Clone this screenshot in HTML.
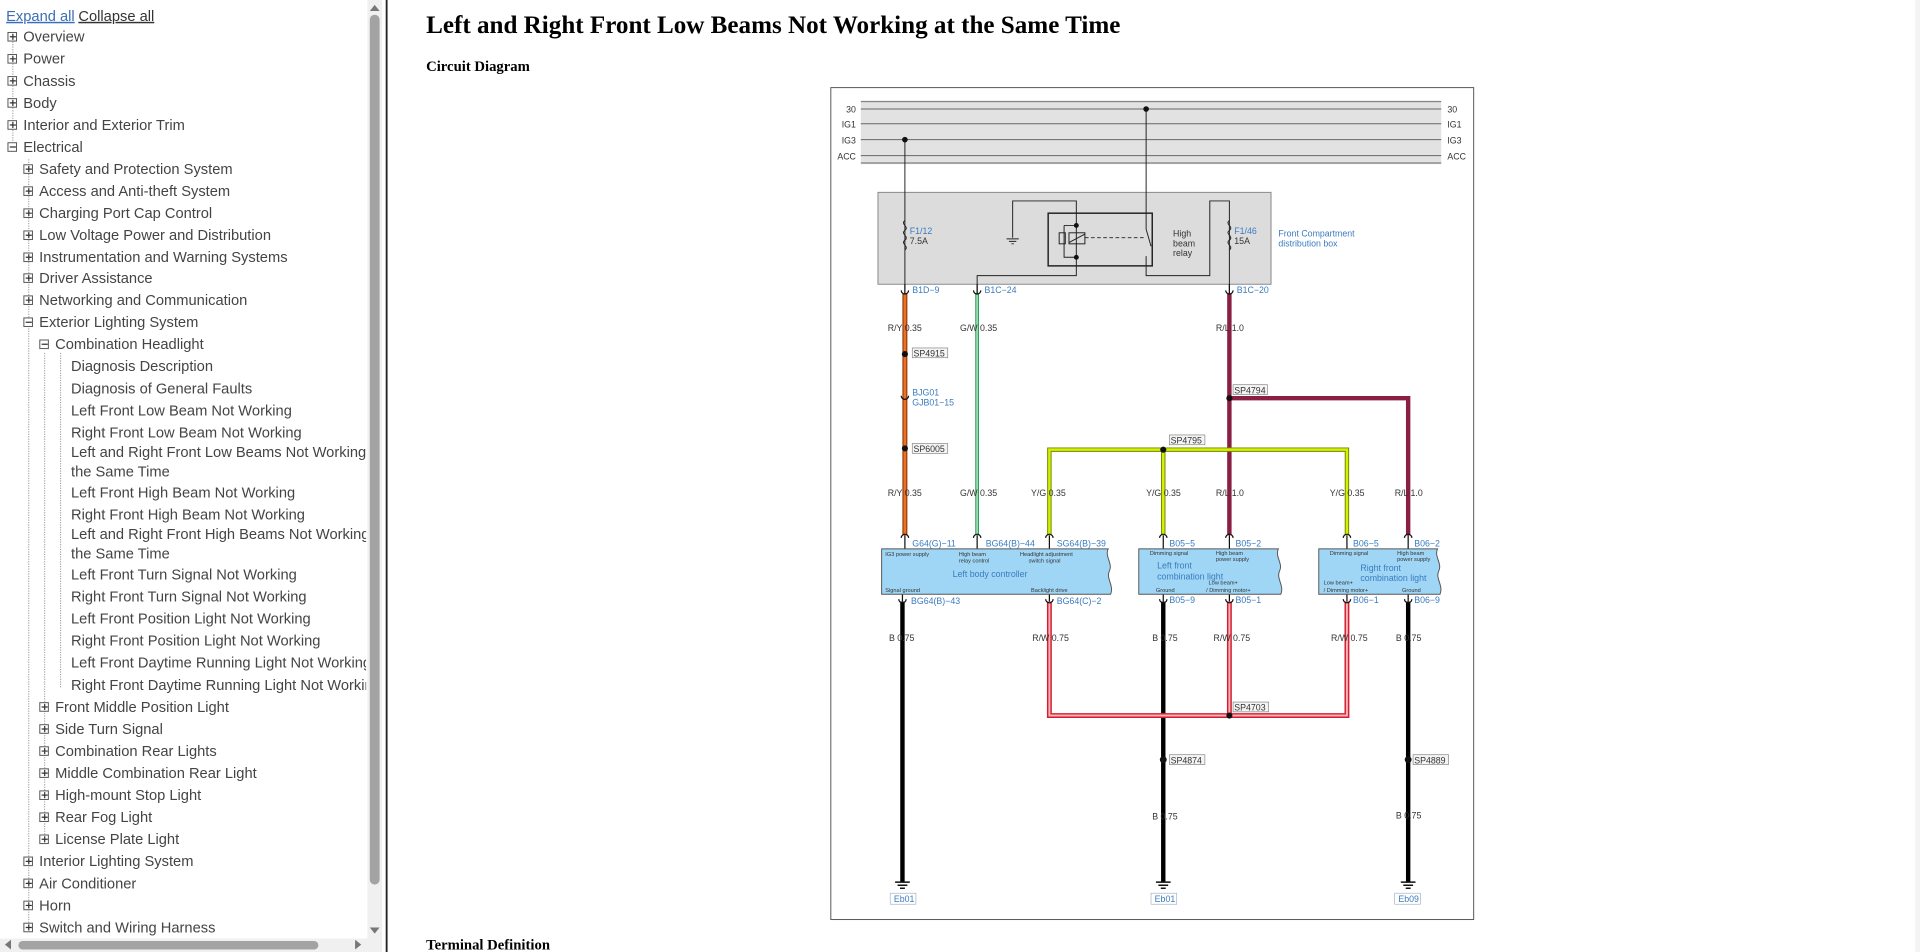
<!DOCTYPE html>
<html><head><meta charset="utf-8"><style>
html,body{margin:0;padding:0;background:#fff;width:1920px;height:952px;overflow:hidden}
svg{display:block}
.nav{font-family:"Liberation Sans",sans-serif;font-size:12px;fill:#444}
.t{font-family:"Liberation Sans",sans-serif;font-size:7.2px;fill:#333}
.b{font-family:"Liberation Sans",sans-serif;font-size:7.2px;fill:#3a7bbf}
.s{font-family:"Liberation Sans",sans-serif;font-size:4.6px;fill:#333}
</style></head><body>
<svg width="1920" height="952" viewBox="0 0 1568 777" preserveAspectRatio="none" xmlns="http://www.w3.org/2000/svg">
<rect width="1568" height="777" fill="#fff"/>
<g class="nav">
<text x="5" y="17" fill="#3a6fb5" text-decoration="underline">Expand all</text>
<text x="64" y="17" fill="#333" text-decoration="underline">Collapse all</text>
<text x="19" y="34">Overview</text>
<text x="19" y="52">Power</text>
<text x="19" y="70">Chassis</text>
<text x="19" y="88">Body</text>
<text x="19" y="106">Interior and Exterior Trim</text>
<text x="19" y="124">Electrical</text>
<text x="32" y="142">Safety and Protection System</text>
<text x="32" y="160">Access and Anti-theft System</text>
<text x="32" y="178">Charging Port Cap Control</text>
<text x="32" y="196">Low Voltage Power and Distribution</text>
<text x="32" y="214">Instrumentation and Warning Systems</text>
<text x="32" y="231">Driver Assistance</text>
<text x="32" y="249">Networking and Communication</text>
<text x="32" y="267">Exterior Lighting System</text>
<text x="45" y="285">Combination Headlight</text>
<text x="58" y="303">Diagnosis Description</text>
<text x="58" y="321">Diagnosis of General Faults</text>
<text x="58" y="339">Left Front Low Beam Not Working</text>
<text x="58" y="357">Right Front Low Beam Not Working</text>
<text x="58" y="373">Left and Right Front Low Beams Not Working</text>
<text x="58" y="389">the Same Time</text>
<text x="58" y="406">Left Front High Beam Not Working</text>
<text x="58" y="424">Right Front High Beam Not Working</text>
<text x="58" y="440">Left and Right Front High Beams Not Working</text>
<text x="58" y="456">the Same Time</text>
<text x="58" y="473">Left Front Turn Signal Not Working</text>
<text x="58" y="491">Right Front Turn Signal Not Working</text>
<text x="58" y="509">Left Front Position Light Not Working</text>
<text x="58" y="527">Right Front Position Light Not Working</text>
<text x="58" y="545">Left Front Daytime Running Light Not Working</text>
<text x="58" y="563">Right Front Daytime Running Light Not Workin</text>
<text x="45" y="581">Front Middle Position Light</text>
<text x="45" y="599">Side Turn Signal</text>
<text x="45" y="617">Combination Rear Lights</text>
<text x="45" y="635">Middle Combination Rear Light</text>
<text x="45" y="653">High-mount Stop Light</text>
<text x="45" y="671">Rear Fog Light</text>
<text x="45" y="689">License Plate Light</text>
<text x="32" y="707">Interior Lighting System</text>
<text x="32" y="725">Air Conditioner</text>
<text x="32" y="743">Horn</text>
<text x="32" y="761">Switch and Wiring Harness</text>
</g>
<rect x="299" y="0" width="17" height="777" fill="#fff"/>
<g fill="none" stroke="#999" stroke-width="0.8" stroke-dasharray="1,1">
<line x1="10.5" y1="34" x2="10.5" y2="116"/>
<line x1="23.5" y1="130" x2="23.5" y2="760"/>
<line x1="36.5" y1="288" x2="36.5" y2="688"/>
<line x1="49.5" y1="288" x2="49.5" y2="562"/>
</g>
<g stroke="#555" stroke-width="0.8" fill="#fff">
<rect x="6.5" y="26.5" width="7" height="7"/><rect x="6.5" y="44.5" width="7" height="7"/><rect x="6.5" y="62.5" width="7" height="7"/><rect x="6.5" y="80.5" width="7" height="7"/><rect x="6.5" y="98.5" width="7" height="7"/><rect x="6.5" y="116.5" width="7" height="7"/>
<rect x="19.5" y="134.5" width="7" height="7"/><rect x="19.5" y="152.5" width="7" height="7"/><rect x="19.5" y="170.5" width="7" height="7"/><rect x="19.5" y="188.5" width="7" height="7"/><rect x="19.5" y="206.5" width="7" height="7"/><rect x="19.5" y="223.5" width="7" height="7"/><rect x="19.5" y="241.5" width="7" height="7"/><rect x="19.5" y="259.5" width="7" height="7"/>
<rect x="32.5" y="277.5" width="7" height="7"/>
<rect x="32.5" y="573.5" width="7" height="7"/><rect x="32.5" y="591.5" width="7" height="7"/><rect x="32.5" y="609.5" width="7" height="7"/><rect x="32.5" y="627.5" width="7" height="7"/><rect x="32.5" y="645.5" width="7" height="7"/><rect x="32.5" y="663.5" width="7" height="7"/><rect x="32.5" y="681.5" width="7" height="7"/>
<rect x="19.5" y="699.5" width="7" height="7"/><rect x="19.5" y="717.5" width="7" height="7"/><rect x="19.5" y="735.5" width="7" height="7"/><rect x="19.5" y="753.5" width="7" height="7"/>
</g>
<g stroke="#333" stroke-width="1">
<path d="M8 30h5M8 48h5M8 66h5M8 84h5M8 102h5M8 120h5M10.5 27.5v5M10.5 45.5v5M10.5 63.5v5M10.5 81.5v5M10.5 99.5v5"/>
<path d="M21 138h5M21 156h5M21 174h5M21 192h5M21 210h5M21 227h5M21 245h5M21 263h5M23.5 135.5v5M23.5 153.5v5M23.5 171.5v5M23.5 189.5v5M23.5 207.5v5M23.5 224.5v5M23.5 242.5v5"/>
<path d="M34 281h5M34 577h5M34 595h5M34 613h5M34 631h5M34 649h5M34 667h5M34 685h5M36.5 574.5v5M36.5 592.5v5M36.5 610.5v5M36.5 628.5v5M36.5 646.5v5M36.5 664.5v5M36.5 682.5v5"/>
<path d="M21 703h5M21 721h5M21 739h5M21 757h5M23.5 700.5v5M23.5 718.5v5M23.5 736.5v5M23.5 754.5v5"/>
</g>
<rect x="300" y="0" width="12" height="766" fill="#f0f0f0"/>
<rect x="302" y="12" width="8" height="710" rx="4" fill="#a3a3a3"/>
<path d="M302 9l4-5 4 5z M302 757l4 5 4-5z" fill="#777"/>
<rect x="0" y="766" width="312" height="11" fill="#f0f0f0"/>
<rect x="15" y="768" width="245" height="7" rx="3.5" fill="#a3a3a3"/>
<path d="M9 767l-5 4 5 4z M290 767l5 4-5 4z" fill="#777"/>
<rect x="315" y="0" width="1.5" height="777" fill="#222"/>
<text x="348" y="27" font-family="Liberation Serif,serif" font-weight="bold" font-size="20.5" fill="#000">Left and Right Front Low Beams Not Working at the Same Time</text>
<text x="348" y="58" font-family="Liberation Serif,serif" font-weight="bold" font-size="12" fill="#000">Circuit Diagram</text>
<text x="348" y="775" font-family="Liberation Serif,serif" font-weight="bold" font-size="12" fill="#000">Terminal Definition</text>
<rect x="678.5" y="71.5" width="525" height="679" fill="#fff" stroke="#555" stroke-width="0.8"/>
<rect x="703" y="82" width="474" height="52" fill="#e2e2e2"/>
<g stroke="#666" stroke-width="0.8"><line x1="703" y1="83" x2="1177" y2="83"/><line x1="703" y1="133" x2="1177" y2="133"/>
<line x1="703" y1="89" x2="1177" y2="89"/><line x1="703" y1="101" x2="1177" y2="101"/><line x1="703" y1="114" x2="1177" y2="114"/><line x1="703" y1="127" x2="1177" y2="127"/></g>
<g class="t" font-size="6.8"><text x="699" y="92" text-anchor="end">30</text><text x="699" y="104" text-anchor="end">IG1</text><text x="699" y="117" text-anchor="end">IG3</text><text x="699" y="130" text-anchor="end">ACC</text>
<text x="1182" y="92">30</text><text x="1182" y="104">IG1</text><text x="1182" y="117">IG3</text><text x="1182" y="130">ACC</text></g>
<rect x="717" y="157" width="321" height="75" fill="#dcdcdc" stroke="#888" stroke-width="0.8"/>
<rect x="856" y="174" width="85" height="43" fill="none" stroke="#222" stroke-width="1.2"/>
<g fill="none" stroke="#222" stroke-width="0.8">
<line x1="739" y1="114" x2="739" y2="240"/>
<line x1="936" y1="89" x2="936" y2="187"/>
<path d="M936 187l4 14"/><path d="M936 209v16h52v-61h16v76"/>
<path d="M827 194v-30h52v61h-81v15"/>
<path d="M879 184h-10M869 184v26h10"/>
<rect x="865" y="190" width="5" height="9"/><rect x="873" y="190" width="13" height="9"/>
<path d="M873 198l13-7"/>
<path d="M886 194h50" stroke-dasharray="3,2"/>
<path d="M822 195h10M824 197h6M826 199h2"/>
<path d="M739 180c-4 3 4 5 0 8c-4 3 4 5 0 8c-4 3 4 5 0 8"/>
<path d="M1004 180c-4 3 4 5 0 8c-4 3 4 5 0 8c-4 3 4 5 0 8"/>
</g>
<g fill="#111"><circle cx="936" cy="89" r="2.3"/><circle cx="739" cy="114" r="2.3"/><circle cx="879" cy="184" r="2"/><circle cx="879" cy="210" r="2"/></g>
<g class="b" font-size="6.5"><text x="743" y="191">F1/12</text><text x="1008" y="191">F1/46</text><text x="1044" y="193">Front Compartment</text><text x="1044" y="201">distribution box</text></g>
<g class="t" font-size="6.5"><text x="743" y="199">7.5A</text><text x="1008" y="199">15A</text><text x="958" y="193">High</text><text x="958" y="201">beam</text><text x="958" y="209">relay</text></g>
<g fill="none" stroke-linejoin="miter">
<path d="M739 240V437" stroke="#7a2a00" stroke-width="4"/><path d="M739 240V437" stroke="#f07020" stroke-width="2.4"/>
<path d="M798 240V437" stroke="#2a8a4a" stroke-width="3"/><path d="M798 240V437" stroke="#90e0b0" stroke-width="1.6"/>
<path d="M1004 240V437M1004 325H1150V437" stroke="#8a1f45" stroke-width="3.6"/>
<path d="M857 437V367H1100V437M950 367V437" stroke="#6a8a00" stroke-width="3.6"/><path d="M857 437V367H1100V437M950 367V437" stroke="#d8f000" stroke-width="2"/>
<path d="M737 491V720M950 491V720M1150 491V720" stroke="#000" stroke-width="3.6"/>
<path d="M857 491V584H1100V491M1004 491V584" stroke="#d02030" stroke-width="4"/><path d="M857 491V584H1100V491M1004 491V584" stroke="#ffb0b8" stroke-width="1.6"/>
</g>
<g fill="#111"><circle cx="739" cy="289" r="2.5"/><circle cx="739" cy="366" r="2.5"/><circle cx="1004" cy="325" r="2.5"/><circle cx="950" cy="367" r="2.5"/><circle cx="1004" cy="584" r="2.5"/><circle cx="950" cy="620" r="2.8"/><circle cx="1150" cy="620" r="2.8"/></g>
<g fill="none" stroke="#111" stroke-width="1">
<path d="M736 237a3 3 0 0 0 6 0M739 232v8M795 237a3 3 0 0 0 6 0M798 232v8M1001 237a3 3 0 0 0 6 0M1004 232v8M736 323a3 3 0 0 0 6 0"/>
<path d="M736 439a3 3 0 0 1 6 0M739 437v11M795 439a3 3 0 0 1 6 0M798 437v11M854 439a3 3 0 0 1 6 0M857 437v11M947 439a3 3 0 0 1 6 0M950 437v11M1001 439a3 3 0 0 1 6 0M1004 437v11M1097 439a3 3 0 0 1 6 0M1100 437v11M1147 439a3 3 0 0 1 6 0M1150 437v11"/>
<path d="M734 489a3 3 0 0 0 6 0M737 485v6M854 489a3 3 0 0 0 6 0M857 485v6M947 489a3 3 0 0 0 6 0M950 485v6M1001 489a3 3 0 0 0 6 0M1004 485v6M1097 489a3 3 0 0 0 6 0M1100 485v6M1147 489a3 3 0 0 0 6 0M1150 485v6"/>
</g>
<g class="b" font-size="6.8">
<text x="745" y="239">B1D−9</text><text x="804" y="239">B1C−24</text><text x="1010" y="239">B1C−20</text>
<text x="745" y="323">BJG01</text><text x="745" y="331">GJB01−15</text>
<text x="745" y="446">G64(G)−11</text><text x="805" y="446">BG64(B)−44</text><text x="863" y="446">SG64(B)−39</text><text x="955" y="446">B05−5</text><text x="1009" y="446">B05−2</text><text x="1105" y="446">B06−5</text><text x="1155" y="446">B06−2</text>
<text x="744" y="493">BG64(B)−43</text><text x="863" y="493">BG64(C)−2</text><text x="955" y="492">B05−9</text><text x="1009" y="492">B05−1</text><text x="1105" y="492">B06−1</text><text x="1155" y="492">B06−9</text>
</g>
<g class="t">
<text x="725" y="270">R/Y 0.35</text><text x="784" y="270">G/W 0.35</text><text x="993" y="270">R/L 1.0</text>
<text x="725" y="405">R/Y 0.35</text><text x="784" y="405">G/W 0.35</text><text x="842" y="405">Y/G 0.35</text><text x="936" y="405">Y/G 0.35</text><text x="993" y="405">R/L 1.0</text><text x="1086" y="405">Y/G 0.35</text><text x="1139" y="405">R/L 1.0</text>
<text x="726" y="523">B 0.75</text><text x="843" y="523">R/W 0.75</text><text x="941" y="523">B 0.75</text><text x="991" y="523">R/W 0.75</text><text x="1087" y="523">R/W 0.75</text><text x="1140" y="523">B 0.75</text>
<text x="941" y="669">B 0.75</text><text x="1140" y="668">B 0.75</text>
</g>
<g class="t" font-size="6.8">
<rect x="745" y="284" width="29" height="8" fill="#f4f4f4" stroke="#777" stroke-width="0.5"/><text x="746" y="291">SP4915</text>
<rect x="745" y="362" width="29" height="8" fill="#f4f4f4" stroke="#777" stroke-width="0.5"/><text x="746" y="369">SP6005</text>
<rect x="1007" y="314" width="28" height="8" fill="#f4f4f4" stroke="#777" stroke-width="0.5"/><text x="1008" y="321">SP4794</text>
<rect x="955" y="355" width="29" height="8" fill="#f4f4f4" stroke="#777" stroke-width="0.5"/><text x="956" y="362">SP4795</text>
<rect x="1007" y="573" width="29" height="8" fill="#f4f4f4" stroke="#777" stroke-width="0.5"/><text x="1008" y="580">SP4703</text>
<rect x="955" y="616" width="29" height="8" fill="#f4f4f4" stroke="#777" stroke-width="0.5"/><text x="956" y="623">SP4874</text>
<rect x="1154" y="616" width="29" height="8" fill="#f4f4f4" stroke="#777" stroke-width="0.5"/><text x="1155" y="623">SP4889</text>
</g>
<g fill="#9fd6f5" stroke="#555" stroke-width="0.8">
<path d="M720 448H905c-3 6 4 12 1 18c-3 6 4 12 1 19H720z"/>
<path d="M930 448H1044c-3 6 4 12 1 18c-3 6 4 12 1 19H930z"/>
<path d="M1077 448H1174c-3 6 4 12 1 18c-3 6 4 12 1 19H1077z"/>
</g>
<g class="s">
<text x="723" y="454">IG3 power supply</text><text x="783" y="454">High beam</text><text x="783" y="459">relay control</text><text x="833" y="454">Headlight adjustment</text><text x="840" y="459">switch signal</text>
<text x="723" y="483">Signal ground</text><text x="842" y="483">Backlight drive</text>
<text x="939" y="453">Dimming signal</text><text x="993" y="453">High beam</text><text x="993" y="458">power supply</text><text x="944" y="483">Ground</text><text x="987" y="477">Low beam+</text><text x="985" y="483">/ Dimming motor+</text>
<text x="1086" y="453">Dimming signal</text><text x="1141" y="453">High beam</text><text x="1141" y="458">power supply</text><text x="1081" y="477">Low beam+</text><text x="1081" y="483">/ Dimming motor+</text><text x="1145" y="483">Ground</text>
</g>
<g class="b" font-size="7.5"><text x="778" y="471">Left body controller</text><text x="945" y="464">Left front</text><text x="945" y="473">combination light</text><text x="1111" y="466">Right front</text><text x="1111" y="474">combination light</text></g>
<g stroke="#111" stroke-width="1.2"><path d="M731 720h12M733 722.5h8M735 725h4M944 720h12M946 722.5h8M948 725h4M1144 720h12M1146 722.5h8M1148 725h4"/></g>
<g class="b" font-size="6.8">
<rect x="727" y="729" width="21" height="9" fill="#fff" stroke="#9ab" stroke-width="0.5"/><text x="730" y="736">Eb01</text>
<rect x="940" y="729" width="21" height="9" fill="#fff" stroke="#9ab" stroke-width="0.5"/><text x="943" y="736">Eb01</text>
<rect x="1139" y="729" width="21" height="9" fill="#fff" stroke="#9ab" stroke-width="0.5"/><text x="1142" y="736">Eb09</text>
</g>
<rect x="1564" y="0" width="4" height="777" fill="#f4f4f4"/>
</svg>
</body></html>
